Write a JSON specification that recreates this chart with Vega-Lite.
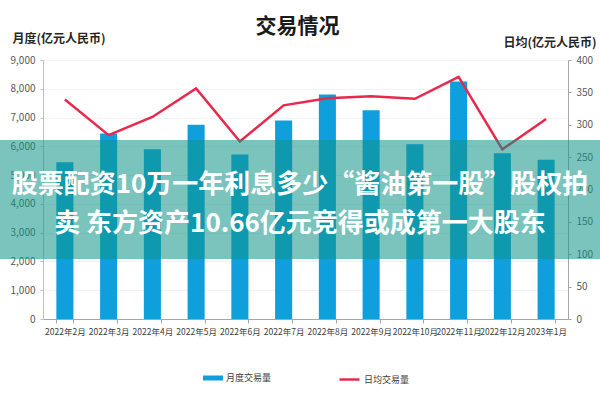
{
  "$schema": "https://vega.github.io/schema/vega-lite/v6.json",
  "width": 525,
  "height": 259,
  "autosize": {"type": "none"},
  "padding": {"left": 43, "top": 60, "right": 32, "bottom": 81},
  "background": "white",
  "config": {"view": {"stroke": null}, "font": "Noto Sans CJK SC"},
  "title": {"text": "交易情况", "font": "Noto Sans CJK SC", "fontSize": 21, "fontWeight": "bold", "color": "#1a1a1a", "anchor": "middle", "offset": -5, "dx": -8},
  "data": {"values": [
    {"month": "2022年2月", "monthly": 5450, "daily": 339},
    {"month": "2022年3月", "monthly": 6450, "daily": 284},
    {"month": "2022年4月", "monthly": 5900, "daily": 312},
    {"month": "2022年5月", "monthly": 6750, "daily": 356},
    {"month": "2022年6月", "monthly": 5720, "daily": 274},
    {"month": "2022年7月", "monthly": 6900, "daily": 330},
    {"month": "2022年8月", "monthly": 7800, "daily": 341},
    {"month": "2022年9月", "monthly": 7250, "daily": 344},
    {"month": "2022年10月", "monthly": 6070, "daily": 340},
    {"month": "2022年11月", "monthly": 8250, "daily": 374},
    {"month": "2022年12月", "monthly": 5760, "daily": 262},
    {"month": "2023年1月", "monthly": 5530, "daily": 309}
  ]},
  "layer": [
    {
      "mark": {"type": "bar"},
      "encoding": {
        "x": {"field": "month", "type": "ordinal", "sort": null,
          "scale": {"paddingInner": 0.61, "paddingOuter": 0.305},
          "axis": {"title": null, "labelAngle": 0, "labelFontSize": 8.5, "labelColor": "#404040", "domainColor": "#a6a6a6", "tickColor": "#a6a6a6", "tickBand": "extent", "tickSize": 4, "labelPadding": 4, "labelOverlap": false}},
        "y": {"field": "monthly", "type": "quantitative",
          "scale": {"domain": [0, 9000]},
          "axis": {"title": "月度(亿元人民币)", "titleAngle": 0, "titleAlign": "left", "titleBaseline": "middle", "titleX": -31, "titleY": -22, "titleFontSize": 12, "titleFontWeight": "bold", "titleColor": "#262626",
            "values": [0, 1000, 2000, 3000, 4000, 5000, 6000, 7000, 8000, 9000], "format": ",.0f", "labelFontSize": 10, "labelColor": "#595959", "domainColor": "#bfbfbf", "tickColor": "#bfbfbf", "tickSize": 3, "labelPadding": 5, "grid": true, "gridColor": "#f2f2f2"}},
        "fill": {"datum": "月度交易量", "type": "nominal",
          "scale": {"range": ["#0e9fdc"]},
          "legend": {"title": null, "orient": "none", "legendX": 160, "legendY": 308, "symbolType": "M-1,-0.25H1V0.25H-1Z", "symbolSize": 400, "labelFontSize": 9, "labelColor": "#404040", "symbolStrokeWidth": 0, "padding": 0, "labelOffset": 3}}
      }
    },
    {
      "mark": {"type": "line", "strokeWidth": 2.5},
      "encoding": {
        "x": {"field": "month", "type": "ordinal", "sort": null},
        "y": {"field": "daily", "type": "quantitative",
          "scale": {"domain": [0, 400]},
          "axis": {"orient": "right", "title": "日均(亿元人民币)", "titleAngle": 0, "titleAlign": "left", "titleBaseline": "middle", "titleX": -65, "titleY": -18, "titleFontSize": 12, "titleFontWeight": "bold", "titleColor": "#262626",
            "values": [0, 50, 100, 150, 200, 250, 300, 350, 400], "format": "d", "labelFontSize": 10, "labelColor": "#595959", "domainColor": "#a6a6a6", "tickColor": "#a6a6a6", "tickSize": 3, "labelPadding": 5, "grid": false}},
        "stroke": {"datum": "日均交易量", "type": "nominal",
          "scale": {"range": ["#e8294b"]},
          "legend": {"title": null, "orient": "none", "legendX": 295, "legendY": 308, "symbolType": "stroke", "symbolSize": 400, "symbolStrokeWidth": 2.5, "labelFontSize": 9, "labelColor": "#404040", "padding": 0, "labelOffset": 3}}
      }
    },
    {
      "data": {"values": [{"band": "caption"}]},
      "mark": {"type": "rect", "color": "#0e9488", "opacity": 0.55},
      "encoding": {
        "x": {"value": -43},
        "x2": {"value": 557},
        "y": {"datum": 6220, "type": "quantitative", "scale": {"domain": [0, 9000]}, "axis": null},
        "y2": {"datum": 2085}
      }
    },
    {
      "data": {"values": [{"caption": "股票配资10万一年利息多少“酱油第一股”股权拍\n卖 东方资产10.66亿元竞得或成第一大股东"}]},
      "mark": {"type": "text", "lineBreak": "\n", "lineHeight": 39, "align": "center", "baseline": "middle", "fontSize": 26, "fontWeight": "bold", "font": "Noto Sans CJK SC", "color": "white"},
      "encoding": {
        "text": {"field": "caption"},
        "x": {"value": 257},
        "y": {"datum": 4640, "type": "quantitative", "scale": {"domain": [0, 9000]}, "axis": null}
      }
    }
  ],
  "resolve": {"scale": {"y": "independent", "fill": "independent", "stroke": "independent"}}
}
